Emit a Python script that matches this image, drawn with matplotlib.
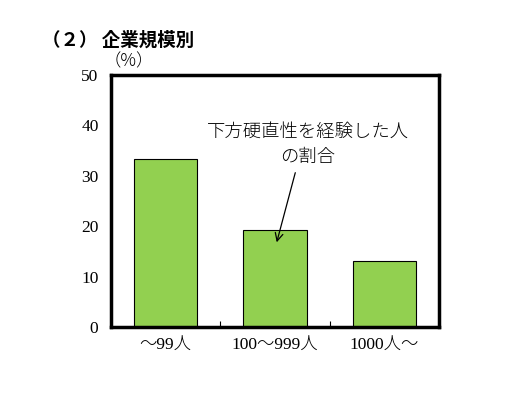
import matplotlib
matplotlib.use("Agg")
import matplotlib.pyplot as plt

categories = ["～99人", "100～999人", "1000人～"]
values = [33.4, 19.2, 13.0]
yticks = [0, 10, 20, 30, 40, 50]

W, H = 514, 413
fig = plt.figure(figsize=(W/100, H/100), dpi=100)
ax = fig.add_axes([111/W, 1-327/H, 328/W, 252/H])

fam = ["Liberation Serif", "Noto Sans CJK JP"]
x = list(range(len(categories)))
ax.bar(x, values, width=0.58, color="#92D050", edgecolor="black", linewidth=0.8, zorder=2)
ax.set_xlim(-0.5, 2.5)
ax.set_ylim(0, 50)
ax.set_yticks(yticks)
ax.set_yticklabels([str(t) for t in yticks], family=fam, fontsize=12.5)
ax.set_xticks([0.5, 1.5], minor=False)
ax.set_xticklabels([])
ax.tick_params(axis="x", direction="in", length=4, width=0.8)
ax.tick_params(axis="y", length=0, pad=9)
for i, c in enumerate(categories):
    ax.text(i, -2.2, c, ha="center", va="top", family=fam, fontsize=12.5, fontweight="light")
for s in ax.spines.values():
    s.set_linewidth(2.5)

fig.text(42/W, 1-40/H, "（２） 企業規模別", family=["Noto Sans CJK JP"], fontsize=13.3,
         fontweight="bold", ha="left", va="center")
fig.text(129/W, 1-61/H, "（%）", family=["Noto Sans CJK JP"], fontsize=12.5, ha="center",
         va="center", fontweight="light")

ax.annotate("", xy=(276/W, 1-245/H), xycoords="figure fraction",
            xytext=(296/W, 1-170/H), textcoords="figure fraction",
            arrowprops=dict(arrowstyle="->", color="black", lw=0.9, mutation_scale=14))
fig.text(308/W, 1-132/H, "下方硬直性を経験した人", family=["Noto Sans CJK JP"], fontsize=13.2,
         ha="center", va="center", fontweight="light")
fig.text(308/W, 1-157/H, "の割合", family=["Noto Sans CJK JP"], fontsize=13.2,
         ha="center", va="center", fontweight="light")

fig.savefig("out.png", dpi=100)
